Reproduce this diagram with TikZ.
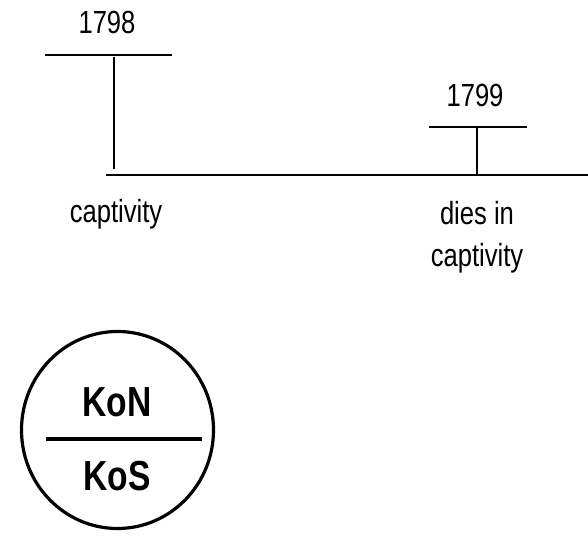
\documentclass[tikz,border=0pt]{standalone}
\usepackage{fontspec}
\setmainfont{Liberation Sans}
\tikzset{
  lbl/.style={inner sep=0pt, font=\fontsize{32}{42}\selectfont, align=center},
  blbl/.style={inner sep=0pt, font=\fontsize{42}{50}\selectfont\bfseries},
  tl/.style={line width=2pt},
}
\newcommand{\nar}[1]{\scalebox{0.8}[1]{#1}}
\begin{document}
\begin{tikzpicture}[x=1pt,y=-1pt]
\useasboundingbox (0,0) rectangle (588,537);
% 1798
\node[lbl] (y1798) at (107,22) {\nar{1798}};
\coordinate (b1l) at (45,55);
\coordinate (b1r) at (172,55);
\draw[tl] (b1l) -- (b1r);
\coordinate (v1t) at (114,57);
\coordinate (v1b) at (114,169);
\draw[tl] (v1t) -- (v1b);
% timeline
\coordinate (tla) at (106,175);
\coordinate (tlb) at (588,175);
\draw[tl] (tla) -- (tlb);
\node[lbl] (cap1) at (116,214) {\nar{captivity}};
% 1799
\node[lbl] (y1799) at (475,95) {\nar{1799}};
\coordinate (b2l) at (429,127);
\coordinate (b2r) at (527,127);
\draw[tl] (b2l) -- (b2r);
\coordinate (v2t) at (477,127);
\coordinate (v2b) at (477,175);
\draw[tl] (v2t) -- (v2b);
\node[lbl] (dies) at (477,237) {\nar{dies in}\\[0pt]\nar{captivity}};
% circle
\draw[line width=3.2pt] (117.5,430) ellipse [x radius=96, y radius=98.5];
\coordinate (cl) at (46,439);
\coordinate (cr) at (202,439);
\draw[line width=4.5pt] (cl) -- (cr);
\node[blbl] (kon) at (117,402) {\nar{KoN}};
\node[blbl] (kos) at (117,476) {\nar{KoS}};
\end{tikzpicture}
\end{document}
